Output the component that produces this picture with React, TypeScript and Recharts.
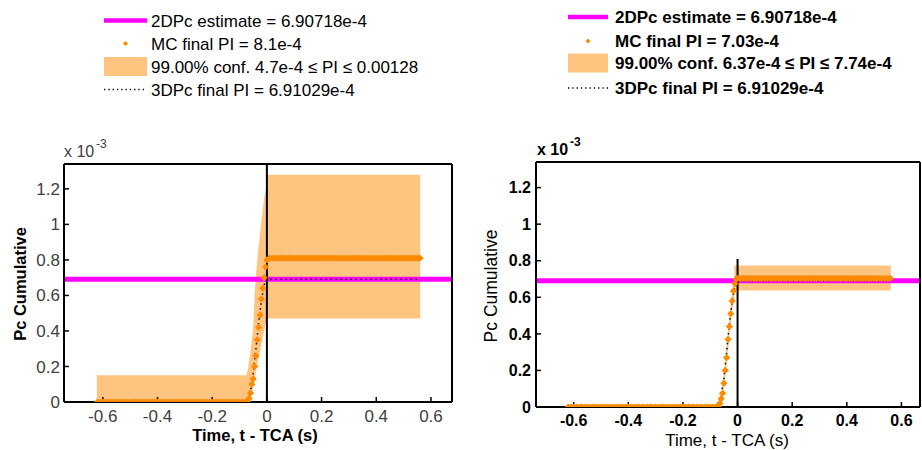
import React from "react";
import { ComposedChart, XAxis, YAxis, Line, Area, ReferenceLine } from "recharts";

// ---- data (Pc values in units of 1e-3) ----
const times = [
  -0.62, -0.61, -0.6, -0.59, -0.58, -0.57, -0.56, -0.55, -0.54, -0.53, -0.52, -0.51, -0.5, -0.49, -0.48,
  -0.47, -0.46, -0.45, -0.44, -0.43, -0.42, -0.41, -0.4, -0.39, -0.38, -0.37, -0.36, -0.35, -0.34, -0.33,
  -0.32, -0.31, -0.3, -0.29, -0.28, -0.27, -0.26, -0.25, -0.24, -0.23, -0.22, -0.21, -0.2, -0.19, -0.18,
  -0.17, -0.16, -0.15, -0.14, -0.13, -0.12, -0.11, -0.1, -0.09, -0.08,
  -0.075, -0.07, -0.065, -0.06, -0.055, -0.05, -0.045, -0.04, -0.035, -0.03, -0.025, -0.02, -0.015, -0.01, -0.005, 0,
  0.01, 0.02, 0.03, 0.04, 0.05, 0.06, 0.07, 0.08, 0.09, 0.1, 0.11, 0.12, 0.13, 0.14, 0.15, 0.16, 0.17, 0.18,
  0.19, 0.2, 0.21, 0.22, 0.23, 0.24, 0.25, 0.26, 0.27, 0.28, 0.29, 0.3, 0.31, 0.32, 0.33, 0.34, 0.35, 0.36,
  0.37, 0.38, 0.39, 0.4, 0.41, 0.42, 0.43, 0.44, 0.45, 0.46, 0.47, 0.48, 0.49, 0.5, 0.51, 0.52, 0.53, 0.54,
  0.55, 0.56,
];

const mcLeft = [
  0, 0, 0, 0, 0, 0, 0, 0, 0, 0, 0, 0, 0, 0, 0,
  0, 0, 0, 0, 0, 0, 0, 0, 0, 0, 0, 0, 0, 0, 0,
  0, 0, 0, 0, 0, 0, 0, 0, 0, 0, 0, 0, 0, 0, 0,
  0, 0, 0, 0, 0, 0, 0, 0, 0, 0,
  0, 0.005, 0.02, 0.05, 0.1, 0.13, 0.2, 0.26, 0.35, 0.42, 0.49, 0.58, 0.64, 0.7, 0.76, 0.8,
  0.81, 0.81, 0.81, 0.81, 0.81, 0.81, 0.81, 0.81, 0.81, 0.81, 0.81, 0.81, 0.81, 0.81, 0.81, 0.81, 0.81, 0.81,
  0.81, 0.81, 0.81, 0.81, 0.81, 0.81, 0.81, 0.81, 0.81, 0.81, 0.81, 0.81, 0.81, 0.81, 0.81, 0.81, 0.81, 0.81,
  0.81, 0.81, 0.81, 0.81, 0.81, 0.81, 0.81, 0.81, 0.81, 0.81, 0.81, 0.81, 0.81, 0.81, 0.81, 0.81, 0.81, 0.81,
  0.81, 0.81,
];

const mcRight = [
  0, 0, 0, 0, 0, 0, 0, 0, 0, 0, 0, 0, 0, 0, 0,
  0, 0, 0, 0, 0, 0, 0, 0, 0, 0, 0, 0, 0, 0, 0,
  0, 0, 0, 0, 0, 0, 0, 0, 0, 0, 0, 0, 0, 0, 0,
  0, 0, 0, 0, 0, 0, 0, 0, 0, 0,
  0, 0.005, 0.02, 0.045, 0.075, 0.13, 0.2, 0.27, 0.37, 0.44, 0.51, 0.58, 0.635, 0.675, 0.7, 0.703,
  0.703, 0.703, 0.703, 0.703, 0.703, 0.703, 0.703, 0.703, 0.703, 0.703, 0.703, 0.703, 0.703, 0.703, 0.703, 0.703, 0.703, 0.703,
  0.703, 0.703, 0.703, 0.703, 0.703, 0.703, 0.703, 0.703, 0.703, 0.703, 0.703, 0.703, 0.703, 0.703, 0.703, 0.703, 0.703, 0.703,
  0.703, 0.703, 0.703, 0.703, 0.703, 0.703, 0.703, 0.703, 0.703, 0.703, 0.703, 0.703, 0.703, 0.703, 0.703, 0.703, 0.703, 0.703,
  0.703, 0.703,
];

const pc3Times = [-0.17, -0.075, -0.07, -0.06, -0.05, -0.04, -0.03, -0.02, -0.01, 0, 0.55];
const pc3Vals = [0, 0, 0.005, 0.06, 0.16, 0.3, 0.45, 0.57, 0.66, 0.691, 0.691];

const bandLeftT = [-0.622, -0.075, -0.07, -0.06, -0.05, -0.045, -0.04, -0.03, -0.02, -0.01, -0.003, 0, 0, 0.561];
const bandLeftLo = [0, 0, 0, 0.02, 0.08, 0.12, 0.17, 0.25, 0.33, 0.4, 0.45, 0.47, 0.47, 0.47];
const bandLeftHi = [0.15, 0.15, 0.18, 0.28, 0.42, 0.6, 0.72, 0.88, 1.02, 1.15, 1.2, 1.2, 1.28, 1.28];

const bandRightT = [-0.622, -0.075, -0.07, -0.06, -0.05, -0.04, -0.03, -0.02, -0.012, -0.012, 0.561];
const bandRightLo = [0, 0, 0, 0.02, 0.1, 0.22, 0.39, 0.53, 0.6, 0.637, 0.637];
const bandRightHi = [0.01, 0.01, 0.02, 0.08, 0.18, 0.33, 0.5, 0.63, 0.7, 0.774, 0.774];

const twoDPc = 0.690718;
const vLineLeft = [0, 1.34];
const vLineRight = [0, 0.81];

const xTicks = [-0.6, -0.4, -0.2, 0, 0.2, 0.4, 0.6];
const yTicks = [0, 0.2, 0.4, 0.6, 0.8, 1, 1.2];

const legendLeft = [
  "2DPc estimate = 6.90718e-4",
  "MC final PI = 8.1e-4",
  "99.00% conf. 4.7e-4 \u2264 PI \u2264 0.00128",
  "3DPc final PI = 6.91029e-4",
];
const legendRight = [
  "2DPc estimate = 6.90718e-4",
  "MC final PI = 7.03e-4",
  "99.00% conf. 6.37e-4 \u2264 PI \u2264 7.74e-4",
  "3DPc final PI = 6.91029e-4",
];

const FONT = "'Liberation Sans', Arial, Helvetica, sans-serif";
const ORANGE = "#FF8A00";
const BAND = "#FFC580";
const MAGENTA = "#FF00FF";

const rows = (ts: number[], ys: number[]) => ts.map((t, i) => ({ t, y: ys[i] }));
const bandRows = (ts: number[], lo: number[], hi: number[]) =>
  ts.map((t, i) => ({ t, range: [lo[i], hi[i]] }));

const Diamond = (p: any) => {
  const { cx, cy, index } = p;
  if (cx == null || cy == null) return <g key={index} />;
  const r = 3.6;
  return (
    <path
      key={index}
      d={`M${cx},${cy - r}L${cx + r},${cy}L${cx},${cy + r}L${cx - r},${cy}Z`}
      fill={ORANGE}
    />
  );
};

type PanelProps = {
  left: number;
  marginTop: number;
  marginRight: number;
  xAxisH: number;
  yAxisW: number;
  xDomain: [number, number];
  yDomain: [number, number];
  mc: number[];
  bandT: number[];
  bandLo: number[];
  bandHi: number[];
  vline: number[];
  bold: boolean;
  tickColor: string;
  tickSize: number;
  yTickMargin: number;
};

function Panel(p: PanelProps) {
  const tickStyle = {
    fill: p.tickColor,
    fontSize: p.tickSize,
    fontWeight: p.bold ? 700 : 400,
    fontFamily: FONT,
  };
  const axisLine = { stroke: "#000", strokeWidth: 2 };
  const tickLine = { stroke: "#000", strokeWidth: 1.5 };
  return (
    <div style={{ position: "absolute", left: p.left, top: 0 }}>
      <ComposedChart
        width={461}
        height={450}
        margin={{ top: p.marginTop, right: p.marginRight, bottom: 0, left: 0 }}
      >
        <XAxis
          xAxisId="b"
          type="number"
          dataKey="t"
          orientation="bottom"
          domain={p.xDomain}
          ticks={xTicks}
          interval={0}
          allowDataOverflow
          height={p.xAxisH}
          tickSize={-5}
          tickMargin={13}
          axisLine={axisLine}
          tickLine={tickLine}
          tick={tickStyle}
        />
        <XAxis
          xAxisId="t"
          type="number"
          dataKey="t"
          orientation="top"
          domain={p.xDomain}
          ticks={xTicks}
          interval={0}
          allowDataOverflow
          height={1}
          tickSize={-5}
          axisLine={axisLine}
          tickLine={tickLine}
          tick={false}
        />
        <YAxis
          yAxisId="l"
          type="number"
          domain={p.yDomain}
          ticks={yTicks}
          interval={0}
          allowDataOverflow
          width={p.yAxisW}
          tickSize={-5}
          tickMargin={p.yTickMargin}
          axisLine={axisLine}
          tickLine={tickLine}
          tick={tickStyle}
        />
        <YAxis
          yAxisId="r"
          type="number"
          orientation="right"
          domain={p.yDomain}
          ticks={yTicks}
          interval={0}
          allowDataOverflow
          width={1}
          tickSize={-5}
          axisLine={axisLine}
          tickLine={tickLine}
          tick={false}
        />
        <Area
          xAxisId="b"
          yAxisId="l"
          data={bandRows(p.bandT, p.bandLo, p.bandHi)}
          dataKey="range"
          type="linear"
          stroke="none"
          fill={BAND}
          fillOpacity={1}
          dot={false}
          activeDot={false}
          isAnimationActive={false}
        />
        <ReferenceLine xAxisId="b" yAxisId="l" y={twoDPc} stroke={MAGENTA} strokeWidth={5} />
        <Line
          xAxisId="b"
          yAxisId="l"
          data={rows(times, p.mc)}
          dataKey="y"
          type="linear"
          stroke="none"
          dot={Diamond}
          activeDot={false}
          isAnimationActive={false}
        />
        <Line
          xAxisId="b"
          yAxisId="l"
          data={rows(pc3Times, pc3Vals)}
          dataKey="y"
          type="linear"
          stroke="#000"
          strokeWidth={1.5}
          strokeDasharray="1.5 3.5"
          dot={false}
          activeDot={false}
          isAnimationActive={false}
        />
        <ReferenceLine
          xAxisId="b"
          yAxisId="l"
          segment={[
            { x: 0, y: p.vline[0] },
            { x: 0, y: p.vline[1] },
          ]}
          stroke="#000"
          strokeWidth={2}
        />
      </ComposedChart>
    </div>
  );
}

function Legend({
  x0,
  x1,
  textX,
  rowsY,
  rectY,
  labels,
  bold,
}: {
  x0: number;
  x1: number;
  textX: number;
  rowsY: number[];
  rectY: [number, number];
  labels: string[];
  bold: boolean;
}) {
  const cxm = (x0 + x1) / 2;
  const fw = bold ? 700 : 400;
  return (
    <g>
      <line x1={x0} x2={x1} y1={rowsY[0]} y2={rowsY[0]} stroke={MAGENTA} strokeWidth={4.5} />
      <path
        d={`M${cxm},${rowsY[1] - 2.5}L${cxm + 2.5},${rowsY[1]}L${cxm},${rowsY[1] + 2.5}L${cxm - 2.5},${rowsY[1]}Z`}
        fill={ORANGE}
      />
      <rect x={x0} y={rectY[0]} width={x1 - x0} height={rectY[1] - rectY[0]} fill={BAND} />
      <line
        x1={x0}
        x2={x1}
        y1={rowsY[3]}
        y2={rowsY[3]}
        stroke="#000"
        strokeWidth={1.3}
        strokeDasharray="1.3 3"
      />
      {labels.map((s, i) => (
        <text
          key={i}
          x={textX}
          y={rowsY[i] + 6}
          fontFamily={FONT}
          fontSize={17}
          fontWeight={fw}
          fill="#000"
        >
          {s}
        </text>
      ))}
    </g>
  );
}

export default function App() {
  return (
    <div
      style={{
        position: "absolute",
        left: 0,
        top: 0,
        width: 922,
        height: 450,
        background: "#fff",
        overflow: "hidden",
      }}
    >
      <Panel
        left={0}
        marginTop={163}
        marginRight={8}
        xAxisH={48}
        yAxisW={64}
        xDomain={[-0.742, 0.677]}
        yDomain={[0, 1.34]}
        mc={mcLeft}
        bandT={bandLeftT}
        bandLo={bandLeftLo}
        bandHi={bandLeftHi}
        vline={vLineLeft}
        bold={false}
        tickColor="#404040"
        tickSize={17}
        yTickMargin={9}
      />
      <Panel
        left={461}
        marginTop={161}
        marginRight={1}
        xAxisH={43}
        yAxisW={75}
        xDomain={[-0.738, 0.668]}
        yDomain={[0, 1.34]}
        mc={mcRight}
        bandT={bandRightT}
        bandLo={bandRightLo}
        bandHi={bandRightHi}
        vline={vLineRight}
        bold={true}
        tickColor="#000"
        tickSize={16}
        yTickMargin={10}
      />
      <svg
        width={922}
        height={450}
        style={{ position: "absolute", left: 0, top: 0, pointerEvents: "none" }}
      >
        <Legend
          x0={104}
          x1={147}
          textX={151}
          rowsY={[20.5, 43.5, 67, 89.5]}
          rectY={[57, 76]}
          labels={legendLeft}
          bold={false}
        />
        <Legend
          x0={568}
          x1={608}
          textX={615}
          rowsY={[17, 41, 63, 88]}
          rectY={[53.5, 72.5]}
          labels={legendRight}
          bold={true}
        />
        {/* exponent labels */}
        <text x={64} y={157} fontFamily={FONT} fontSize={16} fill="#404040">
          x 10
        </text>
        <text x={96} y={148} fontFamily={FONT} fontSize={12} fill="#404040">
          -3
        </text>
        <text x={537} y={155} fontFamily={FONT} fontSize={16} fontWeight={700} fill="#000">
          x 10
        </text>
        <text x={570} y={146} fontFamily={FONT} fontSize={12} fontWeight={700} fill="#000">
          -3
        </text>
        {/* axis titles */}
        <text
          x={255}
          y={441}
          textAnchor="middle"
          fontFamily={FONT}
          fontSize={16.5}
          fontWeight={700}
          fill="#000"
        >
          Time, t - TCA (s)
        </text>
        <text
          x={0}
          y={0}
          transform="translate(26,284) rotate(-90)"
          textAnchor="middle"
          fontFamily={FONT}
          fontSize={16.5}
          fontWeight={700}
          fill="#000"
        >
          Pc Cumulative
        </text>
        <text
          x={727}
          y={446}
          textAnchor="middle"
          fontFamily={FONT}
          fontSize={17}
          fill="#000"
        >
          Time, t - TCA (s)
        </text>
        <text
          x={0}
          y={0}
          transform="translate(497,286) rotate(-90)"
          textAnchor="middle"
          fontFamily={FONT}
          fontSize={17.5}
          fill="#000"
        >
          Pc Cumulative
        </text>
      </svg>
    </div>
  );
}
